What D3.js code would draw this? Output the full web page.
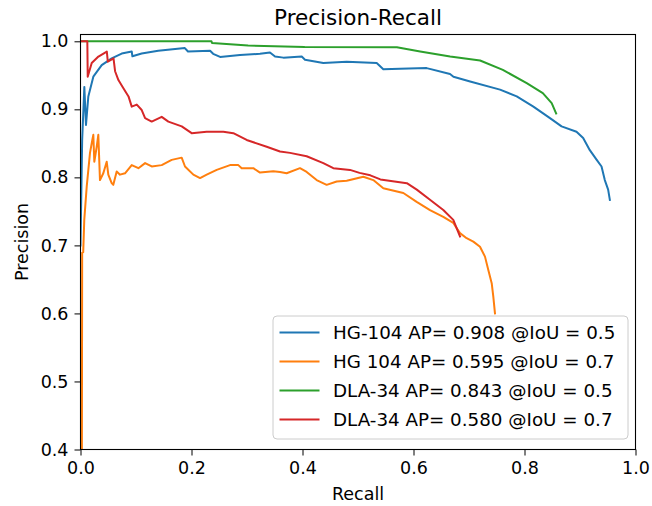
<!DOCTYPE html>
<html><head><meta charset="utf-8">
<script src="https://cdn.jsdelivr.net/npm/d3@7"></script>
<style>body{margin:0;background:#fff}svg{display:block}text{font-family:"DejaVu Sans",sans-serif}</style>
</head><body><svg id="c" width="652" height="506"></svg>
<script>
const title = "Precision-Recall";
const xLabel = "Recall", yLabel = "Precision";
const xTicks = [0, 0.2, 0.4, 0.6, 0.8, 1.0];
const yTicks = [0.4, 0.5, 0.6, 0.7, 0.8, 0.9, 1.0];
const seriesNames = ["HG-104 AP= 0.908 @IoU = 0.5", "HG 104 AP= 0.595 @IoU = 0.7", "DLA-34 AP= 0.843 @IoU = 0.5", "DLA-34 AP= 0.580 @IoU = 0.7"];
const colors = ["#1f77b4", "#ff7f0e", "#2ca02c", "#d62728"];

const hg104_05 = [[0.000,0.70],[0.003,0.855],[0.0069,0.933],[0.0099,0.877],[0.0141,0.919],[0.0231,0.948],[0.0382,0.965],[0.0562,0.975],[0.0742,0.982],[0.0923,0.985],[0.0935,0.978],[0.1102,0.982],[0.140,0.986],[0.188,0.990],[0.1937,0.985],[0.2335,0.986],[0.239,0.9816],[0.2515,0.977],[0.2874,0.980],[0.3234,0.9816],[0.3414,0.9835],[0.3505,0.9776],[0.3655,0.976],[0.3986,0.9776],[0.4045,0.9728],[0.4375,0.968],[0.4796,0.970],[0.5337,0.968],[0.5456,0.959],[0.5757,0.9596],[0.6238,0.9606],[0.6658,0.952],[0.672,0.948],[0.702,0.941],[0.7559,0.929],[0.786,0.919],[0.816,0.904],[0.8459,0.887],[0.8668,0.875],[0.8937,0.867],[0.9057,0.858],[0.9177,0.840],[0.9298,0.826],[0.9388,0.816],[0.9447,0.796],[0.9507,0.782],[0.9538,0.767]];
const hg104_07 = [[0.0025,0.40],[0.003,0.689],[0.0049,0.69],[0.0068,0.7375],[0.0112,0.7865],[0.0171,0.836],[0.0213,0.855],[0.0231,0.8625],[0.0249,0.823],[0.0292,0.845],[0.0321,0.8625],[0.0351,0.796],[0.0411,0.806],[0.0472,0.823],[0.0501,0.804],[0.0562,0.7915],[0.0591,0.789],[0.0652,0.8085],[0.0712,0.804],[0.0802,0.806],[0.0923,0.818],[0.1043,0.8135],[0.1164,0.821],[0.1283,0.816],[0.1463,0.818],[0.1643,0.8257],[0.1823,0.829],[0.1883,0.816],[0.2033,0.804],[0.2154,0.799],[0.2274,0.804],[0.2454,0.811],[0.2694,0.818],[0.2844,0.818],[0.2904,0.8135],[0.3114,0.8135],[0.3234,0.807],[0.3474,0.809],[0.3595,0.808],[0.3714,0.806],[0.3955,0.8135],[0.4075,0.808],[0.4255,0.796],[0.4435,0.789],[0.4616,0.794],[0.4796,0.795],[0.5096,0.801],[0.5276,0.796],[0.5456,0.784],[0.5817,0.777],[0.6057,0.764],[0.6297,0.752],[0.6537,0.742],[0.6717,0.733],[0.6838,0.718],[0.6957,0.7106],[0.7078,0.7056],[0.7198,0.698],[0.7288,0.6835],[0.7348,0.664],[0.7409,0.6444],[0.7438,0.6247],[0.7468,0.600]];
const dla34_05 = [[0.000,1.0],[0.236,1.0],[0.237,0.9974],[0.302,0.9938],[0.404,0.9915],[0.570,0.9912],[0.612,0.985],[0.666,0.9776],[0.720,0.9718],[0.761,0.958],[0.804,0.9385],[0.833,0.9238],[0.849,0.909],[0.857,0.894]];
const dla34_07 = [[0.000,1.0],[0.0123,1.0],[0.0130,0.948],[0.0202,0.968],[0.0323,0.9776],[0.0444,0.9835],[0.0474,0.985],[0.0492,0.970],[0.0595,0.975],[0.0623,0.956],[0.0683,0.943],[0.0773,0.931],[0.0865,0.919],[0.0923,0.904],[0.1014,0.907],[0.1103,0.899],[0.1164,0.887],[0.1283,0.882],[0.1463,0.889],[0.1583,0.882],[0.1824,0.875],[0.2003,0.865],[0.2273,0.867],[0.2574,0.867],[0.2754,0.865],[0.2994,0.855],[0.3355,0.845],[0.3595,0.838],[0.3775,0.836],[0.4075,0.831],[0.4375,0.821],[0.4556,0.8135],[0.4856,0.811],[0.5027,0.8066],[0.5222,0.803],[0.5403,0.797],[0.5880,0.7915],[0.6059,0.782],[0.6297,0.767],[0.6537,0.752],[0.6717,0.7375],[0.6838,0.713]];
const allSeries = [hg104_05, hg104_07, dla34_05, dla34_07];

const svg = d3.select("#c");
const W = 652, H = 506;
const m = {l: 80.5, r: 16.5, t: 34.5, b: 56.5};
const x = d3.scaleLinear().domain([0, 1]).range([m.l, W - m.r]);
const y = d3.scaleLinear().domain([0.4, 1.01]).range([H - m.b, m.t]);

svg.append("rect").attr("width", W).attr("height", H).attr("fill", "#fff");

const clip = svg.append("clipPath").attr("id", "clip").append("rect")
  .attr("x", m.l).attr("y", m.t).attr("width", x(1) - m.l).attr("height", y(0.4) - m.t);

const line = d3.line().x(d => x(d[0])).y(d => y(d[1]));
const g = svg.append("g").attr("clip-path", "url(#clip)");
allSeries.forEach((s, i) => {
  g.append("path").datum(s).attr("d", line).attr("fill", "none")
    .attr("stroke", colors[i]).attr("stroke-width", 2).attr("stroke-linejoin", "round").attr("stroke-linecap", "square");
});

// axes
const xa = svg.append("g").attr("transform", `translate(0,${y(0.4)})`)
  .call(d3.axisBottom(x).tickValues(xTicks).tickFormat(d3.format(".1f")).tickSize(6).tickPadding(6));
const ya = svg.append("g").attr("transform", `translate(${m.l},0)`)
  .call(d3.axisLeft(y).tickValues(yTicks).tickFormat(d3.format(".1f")).tickSize(6).tickPadding(6));
[xa, ya].forEach(a => {
  a.select(".domain").remove();
  a.selectAll("text").attr("font-size", 17.5).attr("fill", "#000").style("font-family", "DejaVu Sans");
  a.selectAll("line").attr("stroke", "#000").attr("stroke-width", 1);
});

// spines
svg.append("rect").attr("x", m.l).attr("y", m.t).attr("width", x(1) - m.l).attr("height", y(0.4) - m.t)
  .attr("fill", "none").attr("stroke", "#000").attr("stroke-width", 1.1);

svg.append("text").attr("x", (x(0) + x(1)) / 2).attr("y", 25).attr("text-anchor", "middle")
  .attr("font-size", 21.5).attr("fill", "#000").text(title);
svg.append("text").attr("x", (x(0) + x(1)) / 2).attr("y", 500).attr("text-anchor", "middle")
  .attr("font-size", 17.5).attr("fill", "#000").text(xLabel);
svg.append("text").attr("transform", `translate(28,${(y(0.4) + y(1.01)) / 2}) rotate(-90)`).attr("text-anchor", "middle")
  .attr("font-size", 17.5).attr("fill", "#000").text(yLabel);

// legend
const lg = svg.append("g");
lg.append("rect").attr("x", 273).attr("y", 316).attr("width", 355).attr("height", 123).attr("rx", 4)
  .attr("fill", "#fff").attr("fill-opacity", 0.8).attr("stroke", "#cccccc").attr("stroke-width", 1);
seriesNames.forEach((n, i) => {
  const yy = 332.5 + i * 29;
  lg.append("line").attr("x1", 279.5).attr("x2", 319.5).attr("y1", yy).attr("y2", yy)
    .attr("stroke", colors[i]).attr("stroke-width", 2);
  lg.append("text").attr("x", 333).attr("y", yy).attr("dy", "0.36em").attr("font-size", 18.3)
    .attr("fill", "#000").text(n);
});
</script></body></html>
